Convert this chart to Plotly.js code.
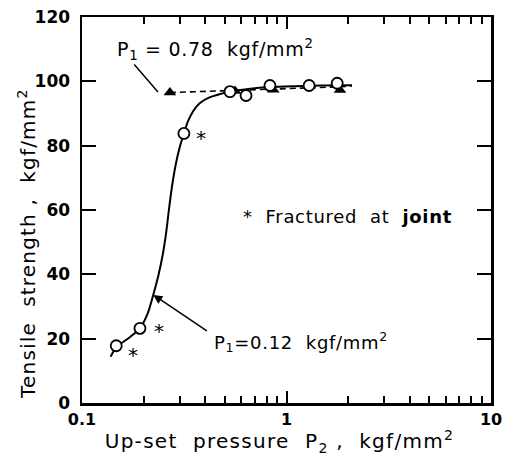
<!DOCTYPE html>
<html>
<head>
<meta charset="utf-8">
<script src="https://cdn.plot.ly/plotly-3.0.1.min.js"></script>
<style>
html,body{margin:0;padding:0;background:#fff;}
#chart{width:509px;height:455px;}
.annotation-text{letter-spacing:0.7px;}
.annotation[data-index="8"] .annotation-text{letter-spacing:1.3px;}
.annotation[data-index="9"] .annotation-text{letter-spacing:1.2px;}
</style>
</head>
<body>
<div id="chart"></div>
<script>
// Open circles: P1 = 0.12 kgf/mm2
const circleX = [0.147, 0.192, 0.315, 0.529, 0.634, 0.83, 1.29, 1.77];
const circleY = [17.8, 23.2, 83.8, 96.8, 95.6, 98.7, 98.7, 99.4];
// Filled triangles: P1 = 0.78 kgf/mm2
const triX = [0.269, 0.56, 0.862, 1.826];
const triY = [96.5, 97.0, 97.4, 97.3];
// Solid fitted curve (P1 = 0.12)
const curveX = [0.138, 0.147, 0.17, 0.192, 0.21, 0.223, 0.236, 0.248, 0.258, 0.266, 0.275, 0.287, 0.301, 0.315, 0.33, 0.35, 0.376, 0.42, 0.47, 0.53, 0.65, 0.83, 1.1, 1.5, 2.09];
const curveY = [14.4, 17.3, 20.3, 23.2, 28, 33.6, 39.5, 46, 53, 60, 67, 74, 79.7, 83.8, 87.6, 90.8, 93.2, 95.0, 96.0, 96.8, 97.6, 98.2, 98.5, 98.7, 98.8];
// Dashed fitted line (P1 = 0.78)
const dashX = [0.269, 0.56, 0.862, 1.3, 1.826, 2.09];
const dashY = [96.5, 97.1, 97.5, 97.9, 98.3, 98.6];
// Joint-fracture asterisks
const starX = [0.178, 0.239, 0.382];
const starY = [15.5, 23.0, 83.0];
// Axis ticks
const xTickVals = [0.1, 1, 10];
const xTickText = ['0.1', '1', '10'];
const xMinorVals = [0.2,0.3,0.4,0.5,0.6,0.7,0.8,0.9,2,3,4,5,6,7,8,9];
const yTickVals = [0, 20, 40, 60, 80, 100, 120];

const FONT = 'DejaVu Sans, Liberation Sans, sans-serif';

const traces = [
  {x: dashX, y: dashY, mode: 'lines', line: {color: '#000', width: 1.6, dash: '6px,4px'}, hoverinfo: 'skip'},
  {x: curveX, y: curveY, mode: 'lines', line: {color: '#000', width: 2, shape: 'spline', smoothing: 0.7}, hoverinfo: 'skip'},
  {x: triX, y: triY, mode: 'markers', marker: {symbol: 'triangle-up', size: 11, color: '#000'}},
  {x: circleX, y: circleY, mode: 'markers', marker: {symbol: 'circle', size: 11, color: '#fff', line: {color: '#000', width: 1.8}}}
];

const annotations = [];
for (let i = 0; i < starX.length; i++) {
  annotations.push({x: Math.log10(starX[i]), y: starY[i], xref: 'x', yref: 'y', text: '*', showarrow: false,
    font: {family: FONT, size: 20, color: '#000'}, yshift: -2});
}
annotations.push(
  {x: Math.log10(0.145), y: 109.8, xref: 'x', yref: 'y', xanchor: 'left', text: 'P<sub>1</sub> = 0.78  kgf/mm<sup>2</sup>', showarrow: false,
   font: {family: FONT, size: 19, color: '#000'}},
  {x: Math.log10(0.2352), y: 96.7, xref: 'x', yref: 'y', ax: -25, ay: -29, text: '', showarrow: true, arrowhead: 0, arrowwidth: 1.5, arrowcolor: '#000'},
  {x: Math.log10(0.2233), y: 33.6, xref: 'x', yref: 'y', ax: 55, ay: 37, text: '', showarrow: true, arrowhead: 2, arrowsize: 1.2, arrowwidth: 1.5, arrowcolor: '#000'},
  {x: Math.log10(0.432), y: 19.1, xref: 'x', yref: 'y', xanchor: 'left', text: 'P<sub>1</sub>=0.12  kgf/mm<sup>2</sup>', showarrow: false,
   font: {family: FONT, size: 18, color: '#000'}},
  {x: Math.log10(0.6), y: 57.9, xref: 'x', yref: 'y', xanchor: 'left', text: '*  Fractured  at  <b>joint</b>', showarrow: false,
   font: {family: FONT, size: 18, color: '#000'}},
  {x: 0.484, y: -0.1, xref: 'paper', yref: 'paper', xanchor: 'center', yanchor: 'middle', text: 'Up-set  pressure  P<sub>2</sub> ,  kgf/mm<sup>2</sup>', showarrow: false,
   font: {family: FONT, size: 20, color: '#000'}},
  {x: -0.1345, y: 0.4145, xref: 'paper', yref: 'paper', xanchor: 'center', yanchor: 'middle', textangle: -90, text: 'Tensile  strength ,  kgf/mm<sup>2</sup>', showarrow: false,
   font: {family: FONT, size: 20, color: '#000'}}
);

const layout = {
  width: 509, height: 455,
  margin: {l: 82, r: 18, t: 17, b: 52},
  paper_bgcolor: '#fff', plot_bgcolor: '#fff',
  showlegend: false,
  font: {family: FONT, color: '#000'},
  xaxis: {
    type: 'log', range: [-1, 1], showgrid: false, zeroline: false,
    showline: true, linecolor: '#000', linewidth: 2.5, mirror: 'ticks',
    ticks: 'inside', ticklen: 12, tickwidth: 2, tickcolor: '#000',
    tickmode: 'array', tickvals: xTickVals, ticktext: xTickText,
    tickfont: {family: FONT, size: 16, weight: 'bold', color: '#000'},
    minor: {ticks: 'inside', ticklen: 7, tickwidth: 2, tickcolor: '#000', tickmode: 'array', tickvals: xMinorVals, showgrid: false}
  },
  yaxis: {
    range: [0, 120], showgrid: false, zeroline: false,
    showline: true, linecolor: '#000', linewidth: 2.5, mirror: 'ticks',
    ticks: 'inside', ticklen: 14, tickwidth: 2, tickcolor: '#000',
    tickmode: 'array', tickvals: yTickVals, ticklabelstandoff: 6,
    tickfont: {family: FONT, size: 17, weight: 'bold', color: '#000'}
  },
  shapes: [
    {type: 'line', xref: 'x', yref: 'y', x0: Math.log10(0.2198), x1: Math.log10(0.2459), y0: 96.3, y1: 96.3, line: {color: '#000', width: 1.5}}
  ],
  annotations: annotations
};

Plotly.newPlot('chart', traces, layout, {displayModeBar: false, staticPlot: true});
</script>
</body>
</html>
